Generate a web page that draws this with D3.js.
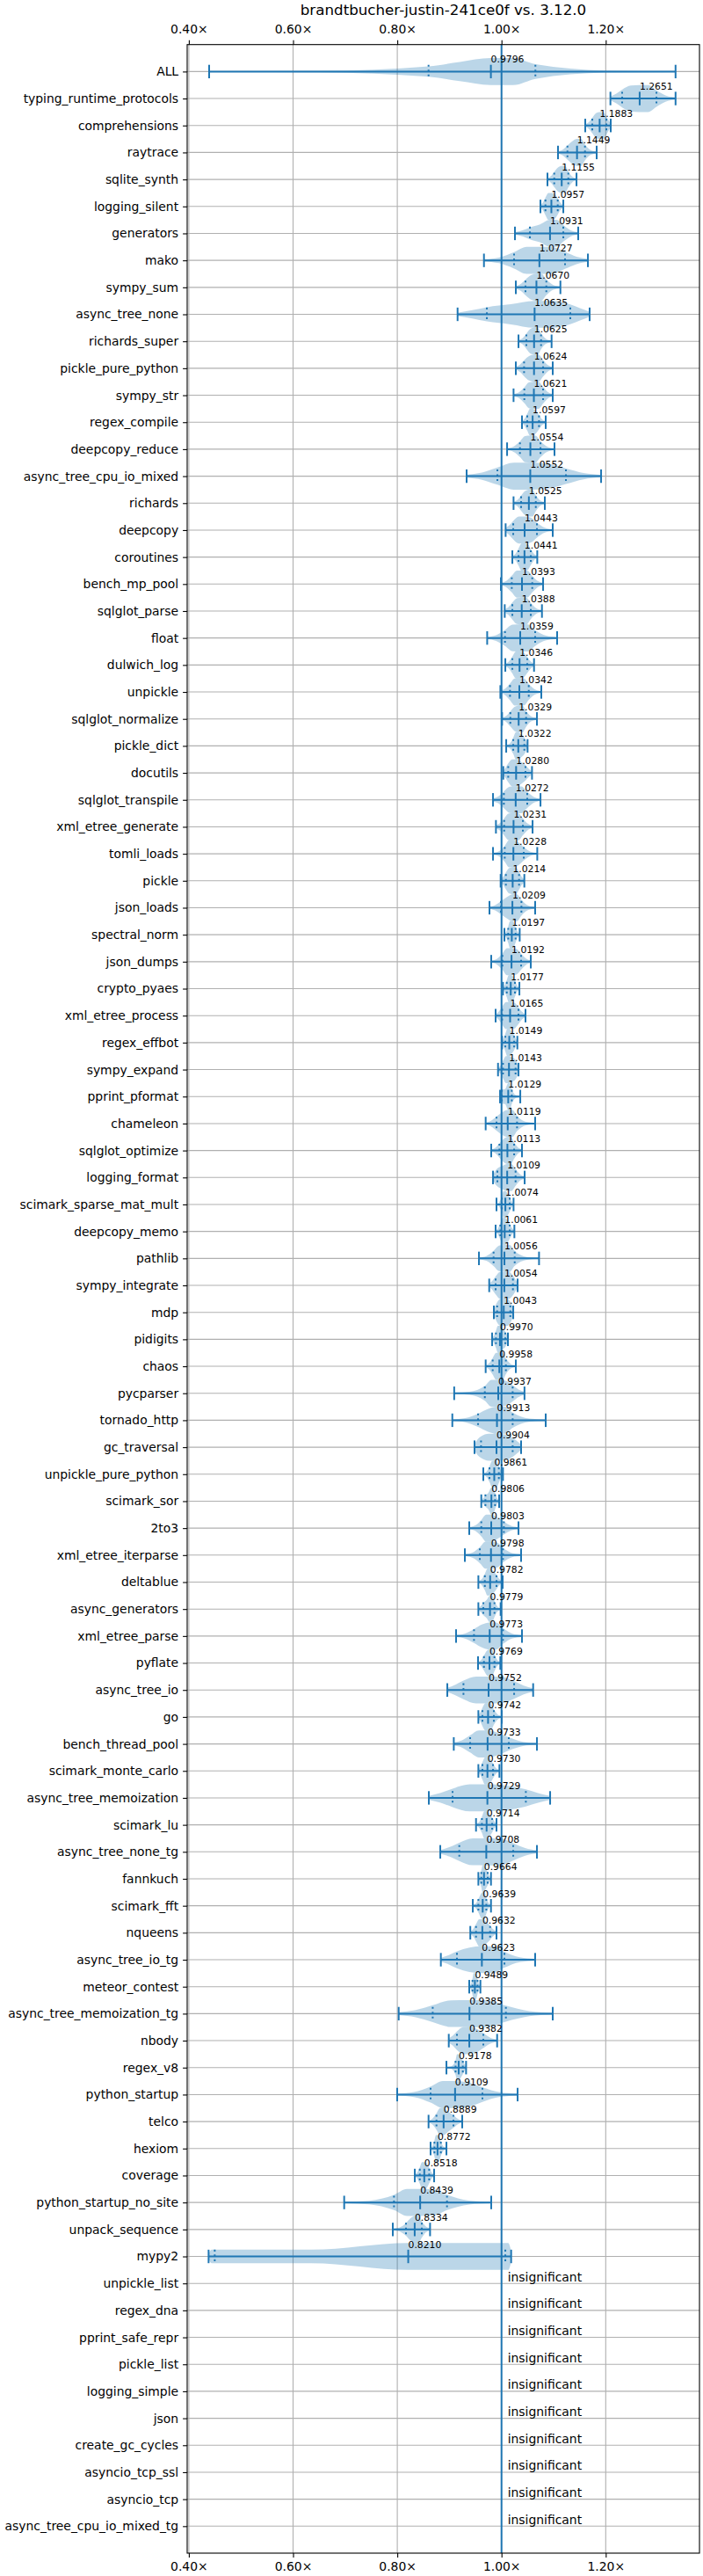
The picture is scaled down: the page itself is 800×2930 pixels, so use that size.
<!DOCTYPE html>
<html>
<head>
<meta charset="utf-8">
<script src="https://cdn.jsdelivr.net/npm/d3@7"></script>
<style>
  body { margin: 0; background: #fff; }
  svg { display: block; font-family: 'DejaVu Sans', sans-serif; }
</style>
</head>
<body>
<div id="chart"></div>
<script>
const title = 'brandtbucher-justin-241ce0f vs. 3.12.0'

// benchmarks with a significant change, top to bottom
const benchmarks = [
  'ALL', 'typing_runtime_protocols', 'comprehensions', 'raytrace', 'sqlite_synth',
  'logging_silent', 'generators', 'mako', 'sympy_sum', 'async_tree_none',
  'richards_super', 'pickle_pure_python', 'sympy_str', 'regex_compile', 'deepcopy_reduce',
  'async_tree_cpu_io_mixed', 'richards', 'deepcopy', 'coroutines', 'bench_mp_pool',
  'sqlglot_parse', 'float', 'dulwich_log', 'unpickle', 'sqlglot_normalize',
  'pickle_dict', 'docutils', 'sqlglot_transpile', 'xml_etree_generate', 'tomli_loads',
  'pickle', 'json_loads', 'spectral_norm', 'json_dumps', 'crypto_pyaes',
  'xml_etree_process', 'regex_effbot', 'sympy_expand', 'pprint_pformat', 'chameleon',
  'sqlglot_optimize', 'logging_format', 'scimark_sparse_mat_mult', 'deepcopy_memo', 'pathlib',
  'sympy_integrate', 'mdp', 'pidigits', 'chaos', 'pycparser',
  'tornado_http', 'gc_traversal', 'unpickle_pure_python', 'scimark_sor', '2to3',
  'xml_etree_iterparse', 'deltablue', 'async_generators', 'xml_etree_parse', 'pyflate',
  'async_tree_io', 'go', 'bench_thread_pool', 'scimark_monte_carlo', 'async_tree_memoization',
  'scimark_lu', 'async_tree_none_tg', 'fannkuch', 'scimark_fft', 'nqueens',
  'async_tree_io_tg', 'meteor_contest', 'async_tree_memoization_tg', 'nbody', 'regex_v8',
  'python_startup', 'telco', 'hexiom', 'coverage', 'python_startup_no_site',
  'unpack_sequence', 'mypy2'
]

// benchmarks drawn only with an "insignificant" note
const insignificantBenchmarks = [
  'unpickle_list', 'regex_dna', 'pprint_safe_repr', 'pickle_list', 'logging_simple',
  'json', 'create_gc_cycles', 'asyncio_tcp_ssl', 'asyncio_tcp', 'async_tree_cpu_io_mixed_tg'
]

const medians = [
  0.9796, 1.2651, 1.1883, 1.1449, 1.1155, 1.0957, 1.0931, 1.0727, 1.0670, 1.0635,
  1.0625, 1.0624, 1.0621, 1.0597, 1.0554, 1.0552, 1.0525, 1.0443, 1.0441, 1.0393,
  1.0388, 1.0359, 1.0346, 1.0342, 1.0329, 1.0322, 1.0280, 1.0272, 1.0231, 1.0228,
  1.0214, 1.0209, 1.0197, 1.0192, 1.0177, 1.0165, 1.0149, 1.0143, 1.0129, 1.0119,
  1.0113, 1.0109, 1.0074, 1.0061, 1.0056, 1.0054, 1.0043, 0.9970, 0.9958, 0.9937,
  0.9913, 0.9904, 0.9861, 0.9806, 0.9803, 0.9798, 0.9782, 0.9779, 0.9773, 0.9769,
  0.9752, 0.9742, 0.9733, 0.9730, 0.9729, 0.9714, 0.9708, 0.9664, 0.9639, 0.9632,
  0.9623, 0.9489, 0.9385, 0.9382, 0.9178, 0.9109, 0.8889, 0.8772, 0.8518, 0.8439,
  0.8334, 0.8210
]

const minimums = [
  0.439, 1.209, 1.1607, 1.1084, 1.0882, 1.0747, 1.0258, 0.9663, 1.0275, 0.9157,
  1.0326, 1.0275, 1.0231, 1.0393, 1.0107, 0.933, 1.0231, 1.0079, 1.0208, 0.9988,
  1.0062, 0.9725, 1.0073, 0.9978, 1.0011, 1.009, 1.0034, 0.9837, 0.9893, 0.9837,
  0.9983, 0.9769, 1.0056, 0.9803, 1.0028, 0.9887, 1.0011, 0.9933, 0.9972, 0.9696,
  0.9803, 0.9837, 0.9904, 0.9887, 0.9567, 0.9764, 0.9853, 0.982, 0.9696, 0.9092,
  0.9056, 0.9482, 0.9651, 0.9612, 0.9381, 0.9297, 0.9556, 0.9556, 0.9128, 0.955,
  0.896, 0.9556, 0.9084, 0.9556, 0.8605, 0.9511, 0.8825, 0.9556, 0.9449, 0.9401,
  0.8836, 0.9381, 0.8027, 0.8988, 0.8943, 0.7998, 0.86, 0.8639, 0.8336, 0.6981,
  0.7914, 0.4379
]

const lowQuantiles = [
  0.860, 1.2315, 1.1742, 1.1265, 1.1012, 1.0843, 1.0545, 1.0241, 1.046, 0.9719,
  1.0477, 1.0433, 1.0438, 1.0494, 1.0354, 0.9921, 1.0376, 1.0225, 1.0326, 1.0197,
  1.0208, 1.0067, 1.0208, 1.0163, 1.0169, 1.0225, 1.0129, 1.0045, 1.0051, 1.0062,
  1.0084, 0.9989, 1.0129, 1.0017, 1.0101, 1.0011, 1.0073, 1.0028, 1.0006, 0.9904,
  0.996, 0.9921, 1.0006, 0.9978, 0.9848, 0.9887, 0.9916, 0.9893, 0.9831, 0.968,
  0.955, 0.9607, 0.9769, 0.9691, 0.9612, 0.9584, 0.968, 0.9651, 0.9472, 0.9663,
  0.927, 0.9634, 0.9398, 0.9634, 0.9061, 0.9624, 0.919, 0.9612, 0.9556, 0.9511,
  0.9145, 0.9443, 0.868, 0.9145, 0.9118, 0.8639, 0.8752, 0.8713, 0.8432, 0.7937,
  0.8167, 0.4497
]

const highQuantiles = [
  1.065, 1.2973, 1.2012, 1.1602, 1.1282, 1.1079, 1.1186, 1.1219, 1.086, 1.132,
  1.0759, 1.0798, 1.0798, 1.072, 1.0748, 1.1236, 1.0658, 1.068, 1.0562, 1.059,
  1.0562, 1.0646, 1.0494, 1.0523, 1.0472, 1.0438, 1.046, 1.0494, 1.041, 1.0427,
  1.0337, 1.0382, 1.027, 1.0376, 1.0258, 1.0326, 1.0242, 1.027, 1.0197, 1.0298,
  1.0242, 1.027, 1.0157, 1.0157, 1.0253, 1.0219, 1.0169, 1.0073, 1.0084, 1.0214,
  1.0214, 1.0214, 0.9949, 0.9876, 1.0045, 1.0028, 0.9904, 0.9865, 1.0028, 0.9865,
  1.0242, 0.9853, 1.014, 0.9837, 1.0467, 0.982, 1.0225, 0.9735, 0.9708, 0.9781,
  1.0056, 0.9539, 1.0084, 0.9651, 0.9258, 0.9634, 0.9078, 0.8836, 0.8612, 0.8954,
  0.847, 1.0073
]

const maximums = [
  1.334, 1.334, 1.2096, 1.1826, 1.1439, 1.1186, 1.1472, 1.1658, 1.113, 1.1691,
  1.0961, 1.0983, 1.0983, 1.0848, 1.1017, 1.1911, 1.0831, 1.0983, 1.0686, 1.0798,
  1.0776, 1.1067, 1.0624, 1.0764, 1.068, 1.05, 1.0585, 1.0748, 1.0596, 1.0686,
  1.0438, 1.0646, 1.0349, 1.0562, 1.0343, 1.046, 1.0304, 1.0326, 1.036, 1.0646,
  1.0393, 1.0444, 1.0231, 1.0247, 1.072, 1.0309, 1.0225, 1.0123, 1.0275, 1.0441,
  1.0848, 1.0376, 1.0028, 0.9955, 1.0326, 1.0376, 1.0022, 0.9983, 1.0393, 0.9977,
  1.0607, 1.0005, 1.068, 0.996, 1.0933, 0.9904, 1.068, 0.9798, 0.9798, 0.9904,
  1.0646, 0.9595, 1.0983, 0.9916, 0.932, 1.0309, 0.9246, 0.8943, 0.8707, 0.9803,
  0.8629, 1.0185
]

const xTicks = [0.4, 0.6, 0.8, 1.0, 1.2]

const blue = '#1f77b4'
const gridColor = '#b0b0b0'

// outline of one violin: density between the read marks, widest = 1
function violinKnots(stats) {
  const share = [0.1, 0.4, 0.4, 0.1]
  const dens = share.map((p, i) => p / Math.max(stats[i + 1] - stats[i], 1e-4))
  dens[0] = Math.min(dens[0], dens[1])
  dens[3] = Math.min(dens[3], dens[2])
  const mid = i => (stats[i] + stats[i + 1]) / 2
  const knots = [
    [stats[0], dens[0] * 0.4],
    [mid(0), dens[0]],
    [stats[1], (dens[0] + dens[1]) / 2],
    [mid(1), dens[1]],
    [stats[2], Math.max(dens[1], dens[2])],
    [mid(2), dens[2]],
    [stats[3], (dens[2] + dens[3]) / 2],
    [mid(3), dens[3]],
    [stats[4], dens[3] * 0.4]
  ]
  const peak = d3.max(knots, k => k[1])
  return knots.map(([v, w]) => ({ v, w: w / peak }))
}

function drawChart(container, width, height) {
  const margin = { top: 50.7, right: 4, bottom: 26, left: 213 }
  const plotBottom = height - margin.bottom
  const plotRight = width - margin.right

  const svg = d3.select(container)
    .append('svg')
    .attr('width', width)
    .attr('height', height)
    .attr('viewBox', [0, 0, width, height])

  svg.append('rect')
    .attr('width', width)
    .attr('height', height)
    .attr('fill', '#fff')

  const x = d3.scaleLinear()
    .domain([0.3968, 1.3799])
    .range([margin.left, plotRight])

  const y = d3.scalePoint()
    .domain(benchmarks.concat(insignificantBenchmarks))
    .range([margin.top, plotBottom])
    .padding(1)

  const step = y.step()
  const halfWidth = step * 0.5
  const tickHalf = step * 0.25

  const rows = benchmarks.map((name, i) => ({
    name,
    stats: [minimums[i], lowQuantiles[i], medians[i], highQuantiles[i], maximums[i]]
  }))

  // grid
  const grid = svg.append('g')
    .attr('stroke', gridColor)
    .attr('stroke-width', 1.1)

  grid.selectAll('line.vgrid')
    .data(xTicks)
    .join('line')
    .attr('class', 'vgrid')
    .attr('x1', d => x(d))
    .attr('x2', d => x(d))
    .attr('y1', margin.top)
    .attr('y2', plotBottom)

  grid.selectAll('line.hgrid')
    .data(y.domain())
    .join('line')
    .attr('class', 'hgrid')
    .attr('x1', margin.left)
    .attr('x2', plotRight)
    .attr('y1', d => y(d))
    .attr('y2', d => y(d))

  // violin bodies
  const area = d3.area()
    .curve(d3.curveMonotoneX)

  svg.append('g')
    .selectAll('path')
    .data(rows)
    .join('path')
    .attr('fill', blue)
    .attr('fill-opacity', 0.3)
    .attr('d', d => {
      const cy = y(d.name)
      return area
        .x(k => x(k.v))
        .y0(k => cy - k.w * halfWidth)
        .y1(k => cy + k.w * halfWidth)(violinKnots(d.stats))
    })

  // bars, extrema and median ticks
  const marks = svg.append('g')
    .attr('stroke', blue)
    .attr('stroke-width', 2)

  marks.selectAll('line.bar')
    .data(rows)
    .join('line')
    .attr('class', 'bar')
    .attr('x1', d => x(d.stats[0]))
    .attr('x2', d => x(d.stats[4]))
    .attr('y1', d => y(d.name))
    .attr('y2', d => y(d.name))

  const solidTicks = rows.flatMap(d => [0, 2, 4].map(j => ({ name: d.name, v: d.stats[j] })))
  marks.selectAll('line.solid')
    .data(solidTicks)
    .join('line')
    .attr('class', 'solid')
    .attr('x1', d => x(d.v))
    .attr('x2', d => x(d.v))
    .attr('y1', d => y(d.name) - tickHalf)
    .attr('y2', d => y(d.name) + tickHalf)

  const dottedTicks = rows.flatMap(d => [1, 3].map(j => ({ name: d.name, v: d.stats[j] })))
  marks.selectAll('line.dotted')
    .data(dottedTicks)
    .join('line')
    .attr('class', 'dotted')
    .attr('stroke-dasharray', '2.1,3.4')
    .attr('x1', d => x(d.v))
    .attr('x2', d => x(d.v))
    .attr('y1', d => y(d.name) - tickHalf)
    .attr('y2', d => y(d.name) + tickHalf)

  // reference line at 1.00x
  svg.append('line')
    .attr('stroke', blue)
    .attr('stroke-width', 2)
    .attr('x1', x(1))
    .attr('x2', x(1))
    .attr('y1', margin.top)
    .attr('y2', plotBottom)

  // value labels
  svg.append('g')
    .attr('font-size', 10.8)
    .attr('fill', '#000')
    .selectAll('text')
    .data(rows)
    .join('text')
    .attr('x', d => x(d.stats[2]))
    .attr('y', d => y(d.name) - 10)
    .text(d => d.stats[2].toFixed(4))

  svg.append('g')
    .attr('font-size', 13.9)
    .attr('fill', '#000')
    .selectAll('text')
    .data(insignificantBenchmarks)
    .join('text')
    .attr('x', x(1) + 7)
    .attr('y', d => y(d) - 2.5)
    .text('insignificant')

  // frame
  svg.append('rect')
    .attr('x', margin.left)
    .attr('y', margin.top)
    .attr('width', plotRight - margin.left)
    .attr('height', plotBottom - margin.top)
    .attr('fill', 'none')
    .attr('stroke', '#000')
    .attr('stroke-width', 1.1)

  // axes
  const fmt = d => d.toFixed(2) + '×'

  const styleAxis = g => {
    g.select('.domain').remove()
    g.selectAll('.tick line').attr('stroke', '#000').attr('stroke-width', 1.1)
    g.selectAll('.tick text').attr('fill', '#000')
    g.attr('font-size', 13.9).attr('font-family', 'DejaVu Sans, sans-serif')
  }

  svg.append('g')
    .attr('transform', `translate(0,${margin.top})`)
    .call(d3.axisTop(x).tickValues(xTicks).tickFormat(fmt).tickSize(4.9).tickPadding(7.4))
    .call(styleAxis)

  svg.append('g')
    .attr('transform', `translate(0,${plotBottom})`)
    .call(d3.axisBottom(x).tickValues(xTicks).tickFormat(fmt).tickSize(4.9).tickPadding(5.7))
    .call(styleAxis)

  svg.append('g')
    .attr('transform', `translate(${margin.left},0)`)
    .call(d3.axisLeft(y).tickSize(4.9).tickPadding(5))
    .call(styleAxis)

  svg.append('text')
    .attr('x', (margin.left + plotRight) / 2)
    .attr('y', 17)
    .attr('text-anchor', 'middle')
    .attr('font-size', 16.7)
    .attr('fill', '#000')
    .text(title)
}

drawChart(document.getElementById('chart'), 800, 2930)
</script>
</body>
</html>
